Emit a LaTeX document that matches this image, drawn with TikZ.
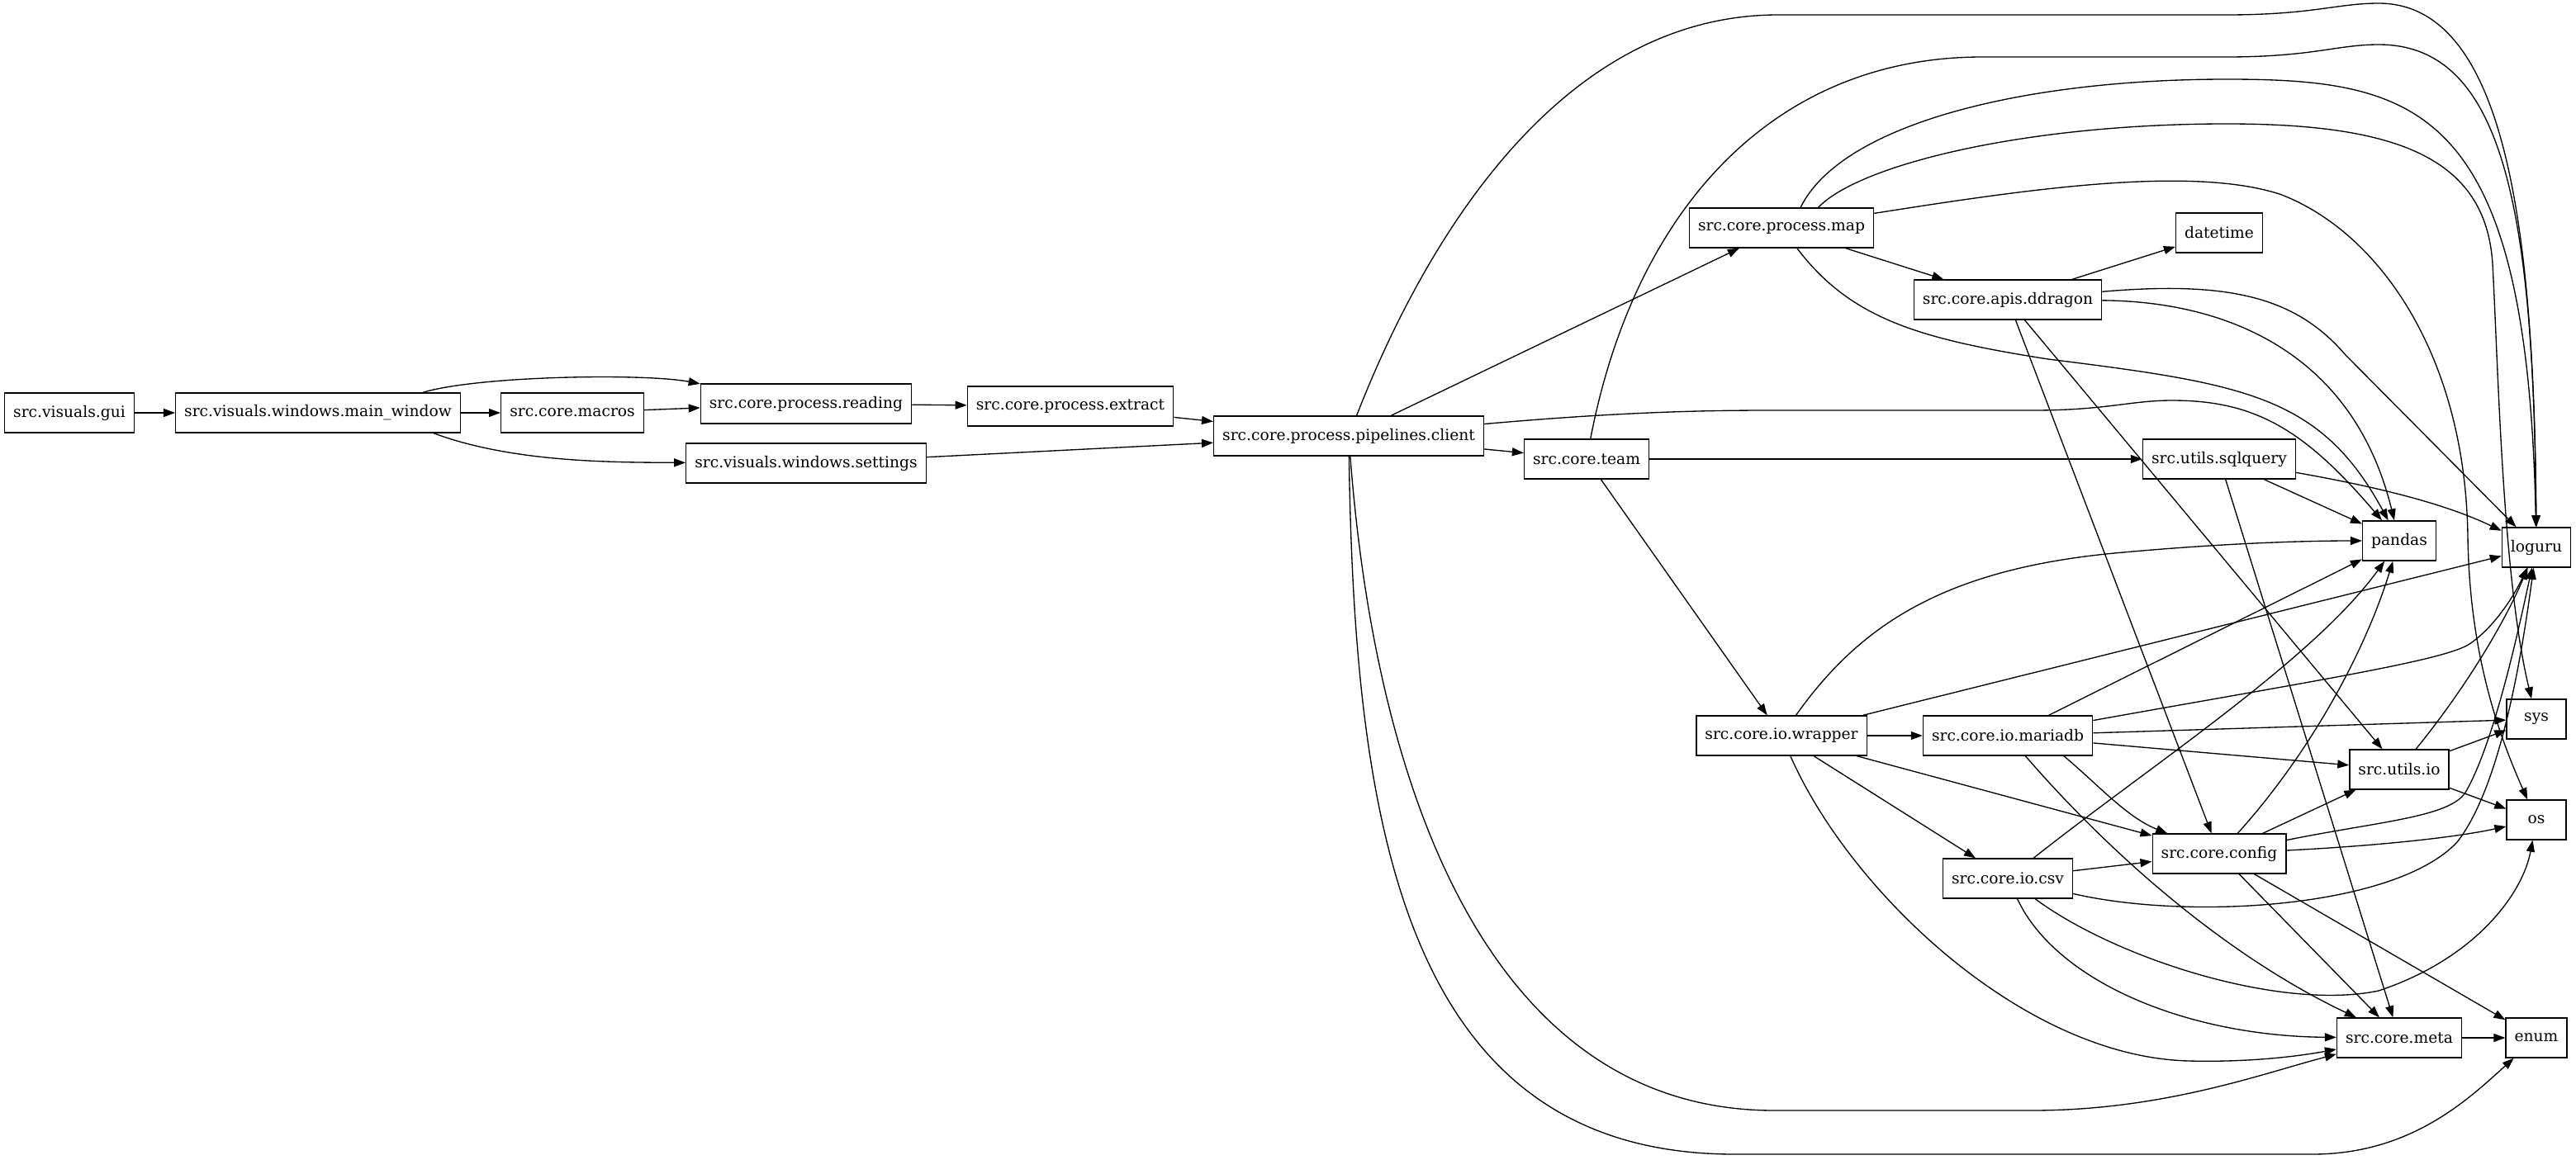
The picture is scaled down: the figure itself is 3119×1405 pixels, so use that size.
\documentclass[tikz,border=0pt]{standalone}
\usepackage{fontspec}
\setmainfont{DejaVu Serif}
\usetikzlibrary{arrows.meta}

\begin{document}
\begin{tikzpicture}[
    x=0.75pt, y=-0.75pt,
    every node/.style={font=\fontsize{14pt}{16pt}\selectfont},
    mod/.style={draw, line width=1pt, rectangle, minimum width=54pt, minimum height=36pt, inner xsep=7.92pt, inner ysep=0pt},
    dep/.style={-{Triangle[length=10.5pt, width=7.5pt]}, line width=1pt}
]
\fill[white] (0,0) rectangle (3119,1405);
\useasboundingbox (0,0) rectangle (3119,1405);

% modules, one column per rank
\node[mod] (gui) at (84,500) {src.visuals.gui};
\node[mod] (mainwin) at (385,500) {src.visuals.windows.main\_window};
\node[mod] (macros) at (693,500) {src.core.macros};
\node[mod] (reading) at (976,489) {src.core.process.reading};
\node[mod] (settings) at (976,561) {src.visuals.windows.settings};
\node[mod] (extract) at (1296,492) {src.core.process.extract};
\node[mod] (client) at (1633,528) {src.core.process.pipelines.client};
\node[mod] (team) at (1921,556) {src.core.team};
\node[mod] (pmap) at (2157,276) {src.core.process.map};
\node[mod] (wrapper) at (2157,891) {src.core.io.wrapper};
\node[mod] (ddragon) at (2431,363) {src.core.apis.ddragon};
\node[mod] (mariadb) at (2431,891) {src.core.io.mariadb};
\node[mod] (csv) at (2431,1064) {src.core.io.csv};
\node[mod] (datetime) at (2687,282) {datetime};
\node[mod] (sqlquery) at (2687,556) {src.utils.sqlquery};
\node[mod] (config) at (2687,1034) {src.core.config};
\node[mod] (pandas) at (2905,655) {pandas};
\node[mod] (utilsio) at (2905,932) {src.utils.io};
\node[mod] (meta) at (2905,1257) {src.core.meta};
\node[mod] (loguru) at (3071,663) {loguru};
\node[mod] (sys) at (3071,871) {sys};
\node[mod] (os) at (3071,993) {os};
\node[mod] (enum) at (3071,1257) {enum};

% gui side
\draw[dep] (gui) -- (mainwin);
\draw[dep] (mainwin) -- (macros);
\draw[dep] (mainwin.11) .. controls (580,455) and (780,452) .. (reading);
\draw[dep] (mainwin.-10) .. controls (620,560) and (740,560) .. (settings);
\draw[dep] (macros) -- (reading);
\draw[dep] (reading) -- (extract);
\draw[dep] (extract) -- (client);
\draw[dep] (settings) -- (client);

% client
\draw[dep] (client) -- (pmap);
\draw[dep] (client) -- (team);
\draw[dep] (client) .. controls (1710,330) and (1870,18) .. (2153,18) -- (2696,18) .. controls (2800,18) and (2830,4) .. (2880,4) .. controls (3040,4) and (3068,300) .. (loguru);
\draw[dep] (client) .. controls (1950,500) and (2050,497) .. (2142,497) -- (2462,497) .. controls (2550,497) and (2580,485) .. (2630,485) .. controls (2730,485) and (2790,520) .. (pandas);
\draw[dep] (client) .. controls (1665,950) and (1800,1345) .. (2148,1345) -- (2460,1345) .. controls (2620,1345) and (2740,1300) .. (meta);
\draw[dep] (client) .. controls (1640,1000) and (1700,1398) .. (2100,1398) -- (2800,1398) .. controls (2920,1398) and (2990,1330) .. (enum);

% team
\draw[dep] (team) -- (sqlquery);
\draw[dep] (team) -- (wrapper);
\draw[dep] (team) .. controls (1980,250) and (2150,69) .. (2400,69) -- (2696,69) .. controls (2800,69) and (2830,54) .. (2880,54) .. controls (3030,54) and (3068,250) .. (loguru);

% process.map
\draw[dep] (pmap) -- (ddragon);
\draw[dep] (pmap) .. controls (2240,385) and (2320,410) .. (2480,435) .. controls (2720,465) and (2810,480) .. (pandas);
\draw[dep] (pmap.47) .. controls (2230,150) and (2450,96) .. (2696,96) .. controls (2930,96) and (3060,130) .. (loguru);
\draw[dep] (pmap.29) .. controls (2250,200) and (2450,150) .. (2696,150) .. controls (2900,150) and (3010,190) .. (3018,320) .. controls (3025,450) and (3030,700) .. (sys);
\draw[dep] (pmap) .. controls (2450,230) and (2650,200) .. (2760,235) .. controls (2880,280) and (2985,430) .. (2988,650) .. controls (2990,800) and (3030,900) .. (os);

% ddragon
\draw[dep] (ddragon) -- (datetime);
\draw[dep] (ddragon) .. controls (2700,365) and (2850,430) .. (pandas);
\draw[dep] (ddragon) .. controls (2700,340) and (2780,360) .. (2840,430) -- (loguru);
\draw[dep] (ddragon) -- (config);
\draw[dep] (ddragon) -- (utilsio);

% sqlquery
\draw[dep] (sqlquery) -- (pandas);
\draw[dep] (sqlquery) .. controls (2880,590) and (2960,610) .. (loguru);
\draw[dep] (sqlquery) -- (meta);

% io.wrapper
\draw[dep] (wrapper) -- (mariadb);
\draw[dep] (wrapper) -- (config);
\draw[dep] (wrapper) -- (csv);
\draw[dep] (wrapper) .. controls (2240,1080) and (2450,1280) .. (2650,1285) .. controls (2730,1287) and (2790,1278) .. (meta);
\draw[dep] (wrapper) .. controls (2250,760) and (2350,690) .. (2560,670) .. controls (2700,657) and (2800,655) .. (pandas);
\draw[dep] (wrapper) -- (loguru);

% io.mariadb
\draw[dep] (mariadb) -- (sys);
\draw[dep] (mariadb) -- (utilsio);
\draw[dep] (mariadb) .. controls (2800,825) and (2960,800) .. (2990,780) .. controls (3020,760) and (3045,720) .. (loguru);
\draw[dep] (mariadb) -- (pandas);
\draw[dep] (mariadb.-20) .. controls (2540,950) and (2575,990) .. (config);
\draw[dep] (mariadb) .. controls (2560,1040) and (2700,1160) .. (meta);

% io.csv
\draw[dep] (csv) -- (config);
\draw[dep] (csv) .. controls (2600,930) and (2800,800) .. (pandas);
\draw[dep] (csv) .. controls (2650,1115) and (2900,1100) .. (2975,1020) .. controls (3030,950) and (3055,780) .. (loguru);
\draw[dep] (csv) .. controls (2560,1160) and (2760,1225) .. (2880,1200) .. controls (3000,1160) and (3055,1080) .. (os);
\draw[dep] (csv) .. controls (2490,1190) and (2650,1255) .. (meta);

% config
\draw[dep] (config) -- (utilsio);
\draw[dep] (config) .. controls (2790,920) and (2860,800) .. (pandas);
\draw[dep] (config) .. controls (2880,995) and (2965,990) .. (2985,960) .. controls (3020,900) and (3050,760) .. (loguru);
\draw[dep] (config) .. controls (2870,1025) and (2970,1015) .. (os);
\draw[dep] (config) -- (meta);
\draw[dep] (config) -- (enum);

% utils.io
\draw[dep] (utilsio) .. controls (2980,840) and (3030,760) .. (loguru);
\draw[dep] (utilsio) -- (sys);
\draw[dep] (utilsio) -- (os);

\draw[dep] (meta) -- (enum);
\end{tikzpicture}
\end{document}
